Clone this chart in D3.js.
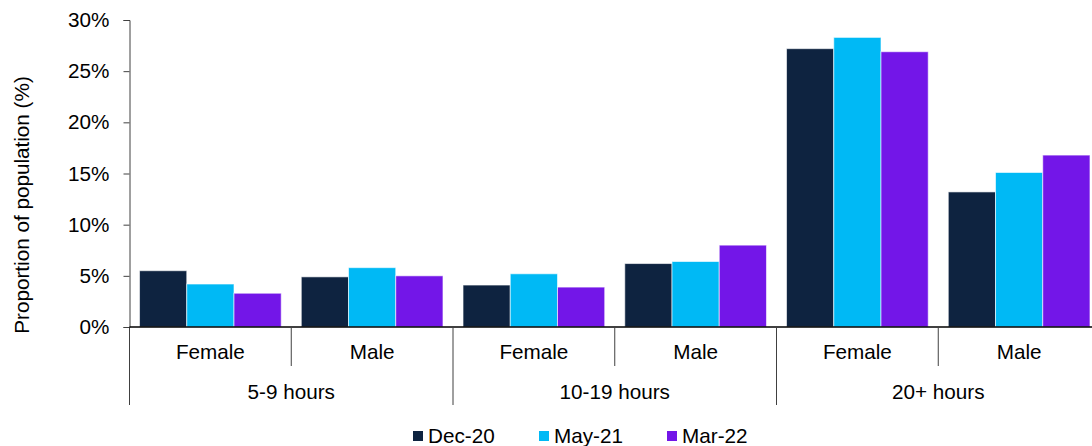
<!DOCTYPE html>
<html>
<head>
<meta charset="utf-8">
<script src="https://cdn.jsdelivr.net/npm/d3@7"></script>
<style>
  body { margin: 0; background: #fff; }
  svg { display: block; font-family: "Liberation Sans", Arial, sans-serif; }
</style>
</head>
<body>
<div id="chart"></div>
<script>
// Data
const groups = ["5-9 hours", "10-19 hours", "20+ hours"];
const sexes = ["Female", "Male"];
const series = ["Dec-20", "May-21", "Mar-22"];
const colors = ["#0e2340", "#00b9f5", "#7316e8"];
const yTicks = [0, 5, 10, 15, 20, 25, 30];

// one value per group/sex, in the order: 5-9 F, 5-9 M, 10-19 F, 10-19 M, 20+ F, 20+ M
const dec20 = [5.5, 4.9, 4.1, 6.2, 27.2, 13.2];
const may21 = [4.2, 5.8, 5.2, 6.4, 28.3, 15.1];
const mar22 = [3.3, 5.0, 3.9, 8.0, 26.9, 16.8];

const width = 1092;
const height = 446;
const margin = { top: 20, left: 129.5 };
const plotBottom = 327;
const plotRight = 1100;
const fontSize = 20.7;

const cats = [];
groups.forEach(g => sexes.forEach(s => cats.push(g + "|" + s)));

const rows = cats.map((c, i) => ({
    cat: c,
    values: [dec20[i], may21[i], mar22[i]]
}));

const svg = d3.select("#chart").append("svg")
    .attr("width", width)
    .attr("height", height);

const x0 = d3.scaleBand()
    .domain(cats)
    .range([margin.left, plotRight])
    .paddingInner(0.124)
    .paddingOuter(0.062);

const xOuter = d3.scaleBand()
    .domain(cats)
    .range([margin.left, plotRight]);

const x1 = d3.scaleBand()
    .domain(series)
    .range([0, x0.bandwidth()]);

const y = d3.scaleLinear()
    .domain([0, 30])
    .range([plotBottom, margin.top]);

// bars
svg.append("g")
    .selectAll("g")
    .data(rows)
    .join("g")
    .attr("transform", d => `translate(${x0(d.cat)},0)`)
    .selectAll("rect")
    .data(d => d.values.map((v, i) => ({ key: series[i], value: v, i: i })))
    .join("rect")
    .attr("x", d => x1(d.key))
    .attr("y", d => y(d.value))
    .attr("width", x1.bandwidth())
    .attr("height", d => y(0) - y(d.value))
    .attr("fill", d => colors[d.i])
    .attr("stroke", "#fff")
    .attr("stroke-opacity", 0.6)
    .attr("stroke-width", 1);

// y axis
const yAxis = d3.axisLeft(y)
    .tickValues(yTicks)
    .tickFormat(d => d + "%")
    .tickSize(6)
    .tickPadding(14);

const yg = svg.append("g")
    .attr("transform", `translate(${margin.left},0)`)
    .call(yAxis);
yg.select(".domain").attr("stroke", "#404040");
yg.selectAll(".tick line").attr("stroke", "#404040");
yg.selectAll(".tick text")
    .attr("font-size", fontSize)
    .attr("fill", "#000")
    .attr("font-family", "Liberation Sans, Arial, sans-serif");

// y axis extends below the plot through the category rows
svg.append("line")
    .attr("x1", margin.left).attr("x2", margin.left)
    .attr("y1", plotBottom).attr("y2", 405)
    .attr("stroke", "#404040");

// baseline
svg.append("line")
    .attr("x1", margin.left).attr("x2", plotRight)
    .attr("y1", plotBottom).attr("y2", plotBottom)
    .attr("stroke", "#000")
    .attr("stroke-width", 1.5);

// separators between sex categories and between groups
cats.forEach((c, i) => {
    if (i === 0) return;
    const xs = xOuter(c);
    const isGroup = i % 2 === 0;
    svg.append("line")
        .attr("x1", xs).attr("x2", xs)
        .attr("y1", plotBottom)
        .attr("y2", isGroup ? 405 : 366)
        .attr("stroke", "#404040");
});

// sex labels
svg.append("g")
    .selectAll("text")
    .data(cats)
    .join("text")
    .attr("x", d => xOuter(d) + xOuter.bandwidth() / 2)
    .attr("y", 359.3)
    .attr("text-anchor", "middle")
    .attr("font-size", fontSize)
    .text(d => d.split("|")[1]);

// group labels
svg.append("g")
    .selectAll("text")
    .data(groups)
    .join("text")
    .attr("x", g => xOuter(g + "|Female") + xOuter.bandwidth())
    .attr("y", 399)
    .attr("text-anchor", "middle")
    .attr("font-size", fontSize)
    .text(g => g);

// y title
svg.append("text")
    .attr("transform", "translate(29,205) rotate(-90)")
    .attr("text-anchor", "middle")
    .attr("font-size", fontSize)
    .text("Proportion of population (%)");

// legend
const legendX = [413, 539, 667];
const legend = svg.append("g")
    .selectAll("g")
    .data(series)
    .join("g")
    .attr("transform", (d, i) => `translate(${legendX[i]},431)`);

legend.append("rect")
    .attr("width", 10)
    .attr("height", 10)
    .attr("fill", (d, i) => colors[i]);

legend.append("text")
    .attr("x", 15)
    .attr("y", 11.5)
    .attr("font-size", fontSize)
    .text(d => d);
</script>
</body>
</html>
